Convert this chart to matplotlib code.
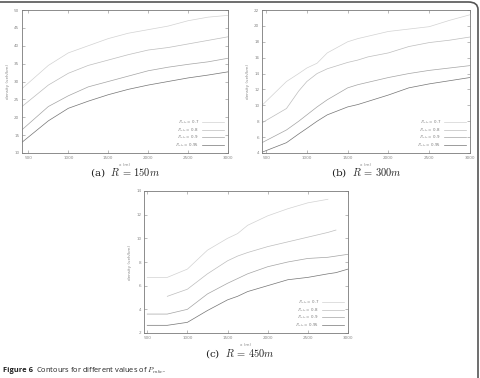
import numpy as np
import matplotlib
matplotlib.use('Agg')
import matplotlib.pyplot as plt
from matplotlib.patches import FancyBboxPatch

plt.rcParams['mathtext.fontset'] = 'cm'

labels = ['$P_{mbc}$ = 0.7', '$P_{mbc}$ = 0.8', '$P_{mbc}$ = 0.9', '$P_{mbc}$ = 0.95']
colors = ['#d2d2d2', '#bdbdbd', '#a4a4a4', '#747474']

# (a) R = 150m
xa = [420, 750, 1000, 1250, 1500, 1750, 2000, 2250, 2500, 2750, 3000]
ya = [
    [28.0, 34.5, 38.0, 40.0, 42.0, 43.5, 44.5, 45.5, 47.0, 48.0, 48.5],
    [23.0, 29.0, 32.3, 34.5, 36.0, 37.5, 38.8, 39.5, 40.5, 41.5, 42.5],
    [16.5, 23.0, 26.0, 28.5, 30.0, 31.5, 33.0, 34.0, 34.8, 35.5, 36.5],
    [13.0, 19.0, 22.5, 24.5, 26.3, 27.8, 29.0, 30.0, 31.0, 31.8, 32.7],
]

# (b) R = 300m
xb = [450, 750, 900, 1000, 1125, 1250, 1500, 1625, 1750, 2000, 2250, 2500, 2750, 3000]
yb = [
    [10.0, 13.0, 14.0, 14.7, 15.3, 16.6, 18.0, 18.4, 18.7, 19.3, 19.6, 19.9, 20.7, 21.4],
    [7.8, 9.6, 11.8, 13.0, 14.0, 14.6, 15.4, 15.7, 16.1, 16.6, 17.4, 17.9, 18.2, 18.6],
    [5.3, 6.9, 8.0, 8.8, 9.8, 10.7, 12.2, 12.6, 12.9, 13.5, 14.0, 14.4, 14.7, 15.0],
    [4.1, 5.3, 6.4, 7.1, 8.0, 8.8, 9.8, 10.1, 10.5, 11.3, 12.2, 12.7, 13.1, 13.5],
]

# (c) R = 450m
xc = [500, 750, 1000, 1250, 1500, 1625, 1750, 2000, 2250, 2500, 2750, 2850, 3000]
yc_07 = [6.7, 6.7, 7.4, 9.0, 10.0, 10.4, 11.1, 11.9, 12.5, 13.0, 13.3]
yc_08 = [5.1, 5.7, 7.0, 8.1, 8.5, 8.8, 9.3, 9.7, 10.1, 10.5, 10.7]
yc_09 = [3.6, 3.6, 4.0, 5.3, 6.2, 6.6, 7.0, 7.6, 8.0, 8.3, 8.4, 8.5, 8.65]
yc_095 = [2.65, 2.65, 2.9, 3.9, 4.8, 5.1, 5.5, 6.0, 6.5, 6.7, 7.0, 7.1, 7.4]

W, H = 480, 378
fig = plt.figure(figsize=(W / 100, H / 100), dpi=100)


def make_axes(l, r, t, b):
    return fig.add_axes([l / W, 1 - b / H, (r - l) / W, (b - t) / H])


def style(ax, xlim, ylim, yticks):
    ax.set_xlim(*xlim)
    ax.set_ylim(*ylim)
    ax.set_xticks([500, 1000, 1500, 2000, 2500, 3000])
    ax.set_yticks(yticks)
    ax.tick_params(direction='in', top=True, right=True, length=2, width=0.4,
                   labelsize=3, colors='#888888', pad=2)
    for s in ax.spines.values():
        s.set_color('#7a7a7a')
        s.set_linewidth(0.6)
    ax.set_xlabel('x (m)', fontsize=3, color='#888888', labelpad=2)
    ax.set_ylabel('density (veh/km)', fontsize=3, color='#888888', labelpad=3)
    ax.legend(loc='lower right', frameon=False, fontsize=2.9, markerfirst=False,
              handlelength=5.5, labelspacing=0.05, borderaxespad=0.5,
              labelcolor='#777777')


ax = make_axes(22, 228, 10, 153)
for y, c, lab in zip(ya, colors, labels):
    ax.plot(xa, y, color=c, lw=0.5, label=lab)
style(ax, (420, 3000), (10, 50), np.arange(10, 51, 5))

ax = make_axes(262, 470, 10, 153)
for y, c, lab in zip(yb, colors, labels):
    ax.plot(xb, y, color=c, lw=0.5, label=lab)
style(ax, (450, 3000), (4, 22), np.arange(4, 23, 2))

ax = make_axes(144, 348, 191, 333)
ax.plot(xc[:11], yc_07, color=colors[0], lw=0.5, label=labels[0])
ax.plot(xc[1:12], yc_08, color=colors[1], lw=0.5, label=labels[1])
ax.plot(xc, yc_09, color=colors[2], lw=0.5, label=labels[2])
ax.plot(xc, yc_095, color=colors[3], lw=0.5, label=labels[3])
style(ax, (460, 3000), (2, 14), np.arange(2, 15, 2))

cap = dict(fontsize=7.5, ha='center', va='center', family='DejaVu Serif', color='#222222')
fig.text(125 / W, 1 - 173 / H, '(a)  $R\\,=\\,150m$', **cap)
fig.text(366 / W, 1 - 173 / H, '(b)  $R\\,=\\,300m$', **cap)
fig.text(240 / W, 1 - 354 / H, '(c)  $R\\,=\\,450m$', **cap)

fig.text(3 / W, 1 - 371 / H, 'Figure 6', fontsize=5.4, weight='bold', family='Open Sans',
         va='center', ha='left', color='#222222')
fig.text(36 / W, 1 - 371 / H, 'Contours for different values of $\\mathit{P}_{mbc}$.',
         fontsize=5.4, family='Open Sans', va='center', ha='left', color='#222222')

# border of the figure image
border = FancyBboxPatch((-20 / W, -20 / H), (478 + 20) / W, (376 + 20) / H,
                        boxstyle='round,pad=0,rounding_size=0.02',
                        transform=fig.transFigure, fill=False,
                        edgecolor='#555555', lw=1.2)
fig.patches.append(border)

fig.savefig('out.png', dpi=100)
